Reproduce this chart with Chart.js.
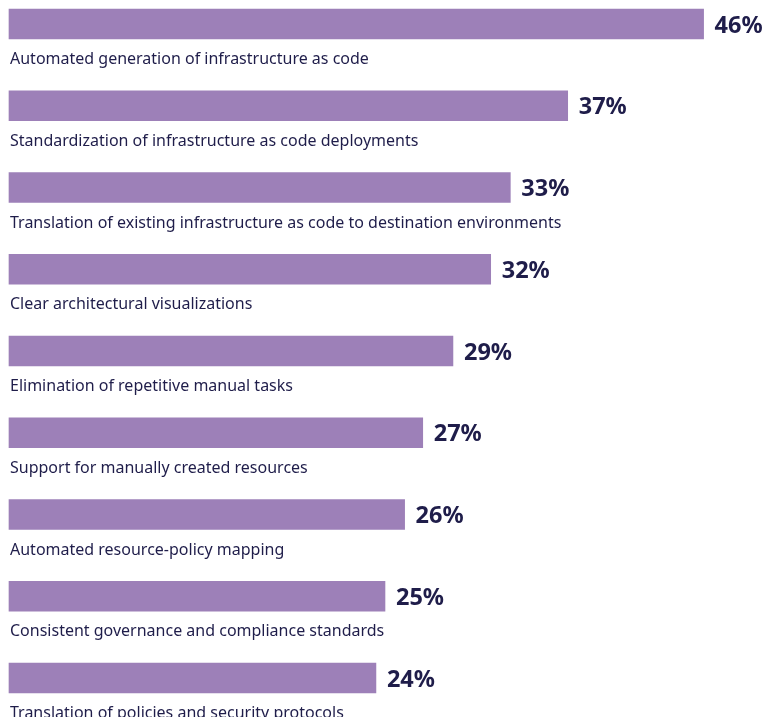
<!DOCTYPE html>
<html>
<head>
<meta charset="utf-8">
<script src="https://cdn.jsdelivr.net/npm/chart.js@4.4.1/dist/chart.umd.min.js"></script>
<style>
  html, body { margin: 0; padding: 0; background: #fff; }
  #wrap { width: 765px; height: 717px; position: relative; }
</style>
</head>
<body>
<div id="wrap"><canvas id="chart"></canvas></div>
<script>
// categories, top to bottom
const categories = [
  'Automated generation of infrastructure as code',
  'Standardization of infrastructure as code deployments',
  'Translation of existing infrastructure as code to destination environments',
  'Clear architectural visualizations',
  'Elimination of repetitive manual tasks',
  'Support for manually created resources',
  'Automated resource-policy mapping',
  'Consistent governance and compliance standards',
  'Translation of policies and security protocols'
];
// bar lengths (percent)
const shares = [46, 37, 33.2, 31.9, 29.4, 27.4, 26.2, 24.9, 24.3];
// printed value labels
const shareLabels = ['46%', '37%', '33%', '32%', '29%', '27%', '26%', '25%', '24%'];

const BAR = '#9d80b8';
const INK = '#1f1d4a';

// category text under each bar + bold value at the bar end
const barText = {
  id: 'barText',
  afterDatasetsDraw(chart) {
    const ctx = chart.ctx;
    const meta = chart.getDatasetMeta(0);
    ctx.save();
    meta.data.forEach((bar, i) => {
      ctx.fillStyle = INK;
      ctx.textAlign = 'left';
      ctx.textBaseline = 'alphabetic';
      ctx.font = '16px "Noto Sans", "Open Sans", sans-serif';
      ctx.fillText(categories[i], chart.chartArea.left + 1, bar.y + 40);
      ctx.font = 'bold 23.5px "Noto Sans", "Open Sans", sans-serif';
      ctx.fillText(shareLabels[i], bar.x + 11, bar.y + 8.5);
    });
    ctx.restore();
  }
};

new Chart(document.getElementById('chart'), {
  type: 'bar',
  data: {
    labels: categories,
    datasets: [{
      data: shares,
      backgroundColor: BAR,
      barThickness: 30,
      clip: false
    }]
  },
  options: {
    indexAxis: 'y',
    responsive: true,
    maintainAspectRatio: false,
    animation: false,
    layout: { padding: { left: 9, right: 1, top: 24, bottom: 39 } },
    plugins: {
      legend: { display: false },
      tooltip: { enabled: false }
    },
    scales: {
      x: { min: 0, max: 50, display: false },
      y: { display: false, offset: false }
    }
  },
  plugins: [barText]
});
</script>
</body>
</html>
